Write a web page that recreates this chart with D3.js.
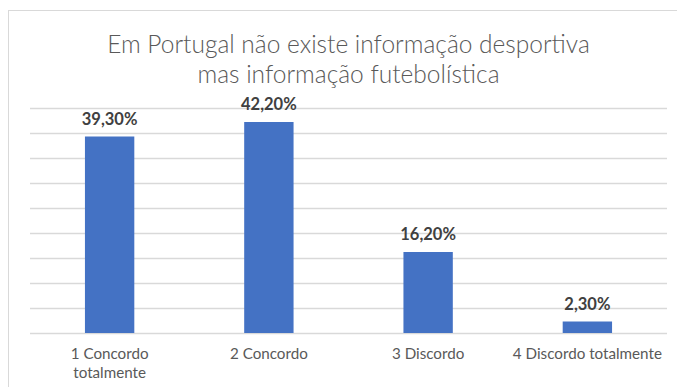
<!DOCTYPE html>
<html>
<head>
<meta charset="utf-8">
<script src="https://cdn.jsdelivr.net/npm/d3@7"></script>
<style>
  html, body { margin: 0; padding: 0; background: #fff; }
  svg { display: block; }
</style>
</head>
<body>
<svg id="chart" width="677" height="387"></svg>
<script>
// Survey answers and their shares (percent)
const categories = ["1 Concordo\ntotalmente", "2 Concordo", "3 Discordo", "4 Discordo totalmente"];
const values = [39.3, 42.2, 16.2, 2.3];
const valueLabels = ["39,30%", "42,20%", "16,20%", "2,30%"];
const gridTicks = [0, 5, 10, 15, 20, 25, 30, 35, 40, 45];
const titleLines = ["Em Portugal não existe informação desportiva", "mas informação futebolística"];

const W = 677, H = 387;
const margin = { left: 30, right: 10, top: 108, bottom: 54 };
const font = "Lato, 'Open Sans', sans-serif";

const svg = d3.select("#chart");

// chart area frame (right and bottom edges fall outside the window)
svg.append("rect")
  .attr("x", 8.5).attr("y", 10.5)
  .attr("width", W).attr("height", H)
  .attr("fill", "#fff")
  .attr("stroke", "#d9d9d9").attr("stroke-width", 1);

const x = d3.scaleBand()
  .domain(categories)
  .range([margin.left, W - margin.right])
  .paddingInner(0.69).paddingOuter(0.345);

const y = d3.scaleLinear()
  .domain([0, 45])
  .range([H - margin.bottom, margin.top]);

// horizontal gridlines
const yAxis = d3.axisLeft(y)
  .tickValues(gridTicks)
  .tickSize(-(W - margin.right - margin.left))
  .tickFormat("");
const gy = svg.append("g")
  .attr("transform", `translate(${margin.left},0)`)
  .call(yAxis);
gy.select(".domain").remove();
gy.selectAll(".tick line")
  .attr("stroke", "#d9d9d9")
  .attr("stroke-width", 1.3);

// bars
svg.append("g").selectAll("rect")
  .data(values)
  .join("rect")
  .attr("x", (d, i) => x(categories[i]))
  .attr("y", d => y(d))
  .attr("width", x.bandwidth())
  .attr("height", d => y(0) - y(d))
  .attr("fill", "#4472c4");

// value labels
svg.append("g").selectAll("text")
  .data(values)
  .join("text")
  .attr("x", (d, i) => x(categories[i]) + x.bandwidth() / 2)
  .attr("y", d => y(d) - 12)
  .attr("text-anchor", "middle")
  .attr("font-family", font)
  .attr("font-weight", "bold")
  .attr("font-size", 16.5)
  .attr("fill", "#404040")
  .text((d, i) => valueLabels[i]);

// category labels
const xAxis = d3.axisBottom(x).tickSize(0).tickFormat("");
const gx = svg.append("g")
  .attr("transform", `translate(0,${y(0)})`)
  .call(xAxis);
gx.select(".domain").remove();
gx.selectAll(".tick").each(function(d) {
  const t = d3.select(this).append("text")
    .attr("text-anchor", "middle")
    .attr("font-family", font)
    .attr("font-size", 15.2)
    .attr("fill", "#595959");
  d.split("\n").forEach((line, k) => {
    t.append("tspan").attr("x", 0).attr("y", 26 + k * 19).text(line);
  });
});

// title
svg.append("g").selectAll("text")
  .data(titleLines)
  .join("text")
  .attr("x", W / 2 + 10)
  .attr("y", (d, i) => 53 + i * 30)
  .attr("text-anchor", "middle")
  .attr("font-family", font)
  .attr("font-weight", 300)
  .attr("font-size", 24.5)
  .attr("fill", "#595959")
  .text(d => d);
</script>
</body>
</html>
